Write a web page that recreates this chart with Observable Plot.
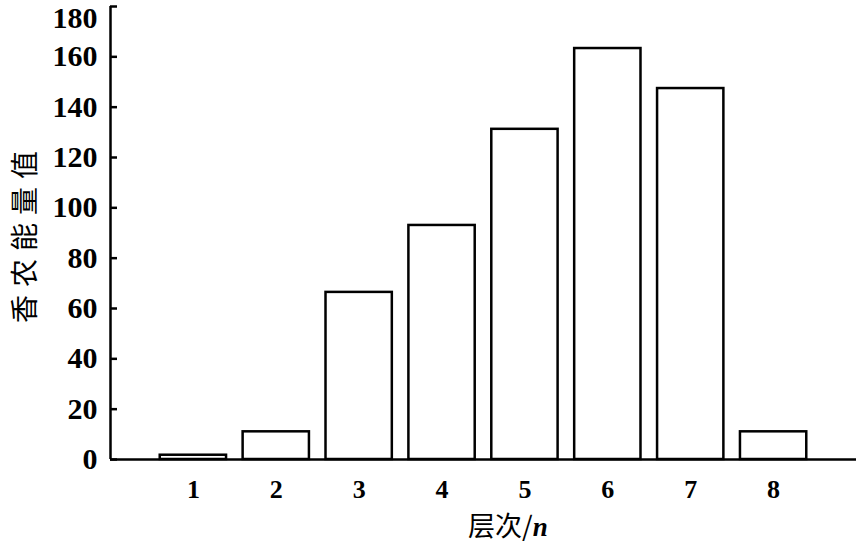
<!DOCTYPE html>
<html>
<head>
<meta charset="utf-8">
<script src="https://cdn.jsdelivr.net/npm/d3@7"></script>
<script src="https://cdn.jsdelivr.net/npm/@observablehq/plot@0.6"></script>
<style>
  html, body { margin: 0; padding: 0; background: #fff; }
  #chart svg { display: block; }
  [aria-label="y-axis label"] text { letter-spacing: 8px; font-size: 28px !important; font-weight: normal !important; font-family: 'Noto Sans CJK SC', sans-serif !important; }
</style>
</head>
<body>
<div id="chart"></div>
<script>
const levels = [1, 2, 3, 4, 5, 6, 7, 8];
const shannon = [1.7, 11, 66.4, 93, 131.2, 163.3, 147.4, 11];
const yTicks = [0, 20, 40, 60, 80, 100, 120, 140, 160, 180];
const yLabel = "香农能量值";
const xLabelMain = "层次/";
const xLabelVar = "n";

const data = levels.map((n, i) => ({n, v: shannon[i]}));
const serif = "'Liberation Serif', 'Times New Roman', 'Noto Sans CJK SC', serif";

const plot = Plot.plot({
  width: 857,
  height: 544,
  marginLeft: 110,
  marginRight: 1,
  marginTop: 6,
  marginBottom: 85,
  style: {fontFamily: serif, background: "#fff", color: "#000"},
  x: {domain: [0, 9]},
  y: {domain: [0, 180]},
  marks: [
    Plot.rectY(data, {
      x1: d => d.n - 0.4,
      x2: d => d.n + 0.4,
      y1: 0,
      y2: "v",
      fill: "#fff",
      stroke: "#000",
      strokeWidth: 2.5
    }),
    Plot.axisY({
      ticks: yTicks,
      tickSize: -7,
      tickPadding: 20,
      strokeWidth: 2.5,
      label: yLabel,
      labelAnchor: "center",
      labelArrow: "none",
      labelOffset: 95
    }),
    Plot.axisX({
      ticks: levels,
      tickSize: 0,
      tickPadding: 20,
      label: null
    }),
    Plot.ruleY([0], {strokeWidth: 2.5}),
    Plot.ruleX([0], {strokeWidth: 2.5})
  ]
});

document.getElementById("chart").appendChild(plot);

// enlarge tick labels
const svgRect = plot.getBoundingClientRect();
d3.select(plot).selectAll("text").each(function() {
  const s = this.textContent.trim();
  if (!/^\d+$/.test(s)) return;
  const b = this.getBoundingClientRect();
  const cx = b.x + b.width / 2 - svgRect.x;
  if (cx < 110) {
    this.style.fontSize = "30px";
    this.style.fontWeight = "bold";
    if (s === String(yTicks[yTicks.length - 1])) this.setAttribute("dy", "0.4em");
  } else {
    this.style.fontSize = "26px";
    this.style.fontWeight = "bold";
  }
});

// x-axis title with italic variable
const xs = plot.scale("x");
const t = d3.select(plot).append("text")
  .attr("x", xs.apply(4.8))
  .attr("y", 536)
  .attr("text-anchor", "middle")
  .attr("font-size", 27)
  .attr("fill", "#000");
t.append("tspan").attr("font-family", "'Noto Sans CJK SC', sans-serif").text(xLabelMain);
t.append("tspan").attr("font-family", serif).attr("font-style", "italic").attr("font-weight", "bold").text(xLabelVar);
</script>
</body>
</html>
